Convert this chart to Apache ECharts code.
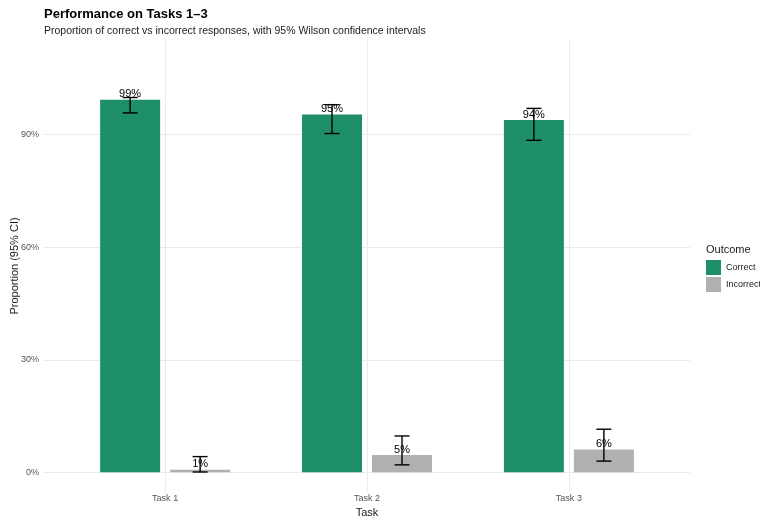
<!DOCTYPE html>
<html>
<head>
<meta charset="utf-8">
<script src="https://cdn.jsdelivr.net/npm/echarts@6/dist/echarts.min.js"></script>
<style>
  html, body { margin: 0; padding: 0; background: #fff; }
  #main { width: 760px; height: 520px; }
</style>
</head>
<body>
<div id="main"></div>
<script>
// data
const tasks = ['Task 1', 'Task 2', 'Task 3']
const taskPos = [1, 2, 3]
const correct = [0.993, 0.954, 0.939]
const incorrect = [0.007, 0.046, 0.061]
const correctLo = [0.958, 0.903, 0.885]
const correctHi = [0.999, 0.980, 0.970]
const incorrectLo = [0.001, 0.020, 0.030]
const incorrectHi = [0.042, 0.097, 0.115]
const yTicks = [0, 0.3, 0.6, 0.9]

const font = 'Liberation Sans, Arial, sans-serif'
const green = '#1E8F66'
const grey = '#B0B0B0'

const pct = v => Math.round(v * 100) + '%'

function barData (vals) {
  return vals.map((v, i) => [taskPos[i], v])
}
function errData (lo, hi) {
  return lo.map((v, i) => [taskPos[i], v, hi[i]])
}
function errorBars (name, lo, hi, dx) {
  return {
    type: 'custom',
    name: name + ' CI',
    data: errData(lo, hi),
    encode: { x: 0, y: [1, 2] },
    z: 5,
    renderItem: function (params, api) {
      const a = api.coord([api.value(0), api.value(1)])
      const b = api.coord([api.value(0), api.value(2)])
      const x = a[0] + dx
      const w = 7.5
      const st = { stroke: '#000', lineWidth: 1.4 }
      return {
        type: 'group',
        children: [
          { type: 'line', shape: { x1: x, y1: a[1], x2: x, y2: b[1] }, style: st },
          { type: 'line', shape: { x1: x - w, y1: a[1], x2: x + w, y2: a[1] }, style: st },
          { type: 'line', shape: { x1: x - w, y1: b[1], x2: x + w, y2: b[1] }, style: st }
        ]
      }
    }
  }
}

const barLabel = {
  show: true,
  position: 'top',
  distance: 0,
  fontFamily: font,
  fontSize: 11,
  color: '#000',
  formatter: p => pct(p.value[1])
}

const option = {
  animation: false,
  textStyle: { fontFamily: font },
  title: [
    {
      text: 'Performance on Tasks 1\u20133',
      subtext: 'Proportion of correct vs incorrect responses, with 95% Wilson confidence intervals',
      left: 39,
      top: 3,
      itemGap: 5,
      textStyle: { fontFamily: font, fontSize: 13, fontWeight: 'bold', color: '#000' },
      subtextStyle: { fontFamily: font, fontSize: 10.5, color: '#1a1a1a' }
    },
    {
      text: 'Outcome',
      left: 701,
      top: 239,
      textStyle: { fontFamily: font, fontSize: 11, fontWeight: 'normal', color: '#1a1a1a' }
    }
  ],
  legend: {
    data: ['Correct', 'Incorrect'],
    orient: 'vertical',
    left: 701,
    top: 255,
    icon: 'rect',
    itemWidth: 15,
    itemHeight: 15,
    itemGap: 2,
    textStyle: { fontFamily: font, fontSize: 9, color: '#1a1a1a' }
  },
  grid: { left: 44, right: 70, top: 39, bottom: 27, outerBoundsMode: 'none', containLabel: false },
  xAxis: {
    type: 'value',
    min: 0.4,
    max: 3.6,
    name: 'Task',
    nameLocation: 'middle',
    nameGap: 11,
    nameTextStyle: { fontFamily: font, fontSize: 11, color: '#1a1a1a' },
    axisLine: { show: false, onZero: false },
    axisTick: { show: false, customValues: taskPos },
    axisLabel: {
      customValues: taskPos,
      formatter: v => tasks[Math.round(v) - 1],
      fontFamily: font,
      fontSize: 9,
      color: '#555',
      margin: 1
    },
    splitLine: { show: true, customValues: taskPos, lineStyle: { color: '#EBEBEB', width: 1 } }
  },
  yAxis: {
    type: 'value',
    min: -0.055,
    max: 1.155,
    name: 'Proportion (95% CI)',
    nameLocation: 'middle',
    nameGap: 24,
    nameMoveOverlap: false,
    nameTextStyle: { fontFamily: font, fontSize: 11, color: '#1a1a1a' },
    axisLine: { show: false },
    axisTick: { show: false, customValues: yTicks },
    axisLabel: {
      customValues: yTicks,
      formatter: v => pct(v),
      fontFamily: font,
      fontSize: 9,
      color: '#555',
      margin: 5
    },
    splitLine: { show: true, customValues: yTicks, lineStyle: { color: '#EBEBEB', width: 1 } }
  },
  series: [
    {
      type: 'bar',
      name: 'Correct',
      data: barData(correct),
      barWidth: 60,
      barGap: '16.67%',
      itemStyle: { color: green },
      label: barLabel
    },
    {
      type: 'bar',
      name: 'Incorrect',
      data: barData(incorrect),
      barWidth: 60,
      barGap: '16.67%',
      itemStyle: { color: grey },
      label: barLabel
    },
    errorBars('Correct', correctLo, correctHi, -35),
    errorBars('Incorrect', incorrectLo, incorrectHi, 35)
  ]
}

const chart = echarts.init(document.getElementById('main'))
chart.setOption(option)
</script>
</body>
</html>
